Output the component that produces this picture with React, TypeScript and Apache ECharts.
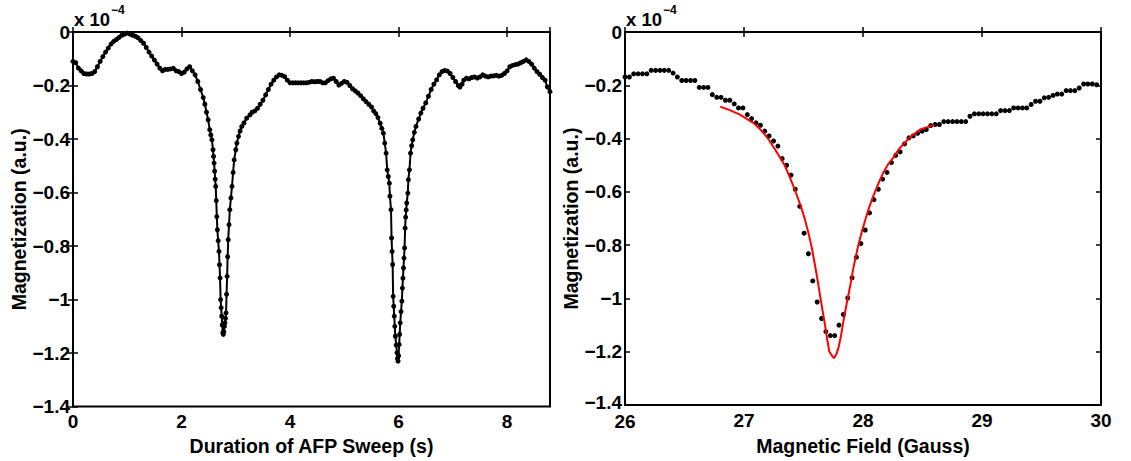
import React, { useEffect, useRef } from "react";
import * as echarts from "echarts";

// Left panel: magnetization (x 10^-4 a.u.) vs duration of AFP sweep (s)
const sweepPoints: [number, number][] = [
  [0.0, -0.11], [0.05, -0.115], [0.1, -0.135], [0.15, -0.145], [0.2, -0.155], [0.25, -0.157],
  [0.3, -0.157], [0.35, -0.155], [0.4, -0.148], [0.45, -0.13], [0.5, -0.11], [0.55, -0.092],
  [0.6, -0.075], [0.65, -0.06], [0.7, -0.045], [0.75, -0.035], [0.8, -0.028], [0.85, -0.02],
  [0.9, -0.012], [0.95, -0.008], [1.0, -0.004], [1.05, -0.008], [1.1, -0.012], [1.15, -0.016],
  [1.2, -0.022], [1.25, -0.032], [1.3, -0.042], [1.35, -0.058], [1.4, -0.075], [1.45, -0.09],
  [1.5, -0.105], [1.55, -0.12], [1.6, -0.135], [1.65, -0.145], [1.7, -0.14], [1.75, -0.14],
  [1.8, -0.138], [1.85, -0.136], [1.9, -0.145], [1.95, -0.148], [2.0, -0.155], [2.05, -0.15],
  [2.1, -0.138], [2.15, -0.13], [2.2, -0.145], [2.25, -0.16], [2.3, -0.185], [2.35, -0.215],
  [2.4, -0.245], [2.43, -0.27], [2.46, -0.3], [2.49, -0.328], [2.52, -0.365], [2.54, -0.385],
  [2.56, -0.403], [2.58, -0.44], [2.59, -0.465], [2.6, -0.49], [2.61, -0.52], [2.62, -0.55],
  [2.63, -0.577], [2.64, -0.63], [2.65, -0.69], [2.66, -0.739], [2.675, -0.78], [2.69, -0.82],
  [2.7, -0.87], [2.71, -0.919], [2.72, -1.0], [2.73, -1.03], [2.74, -1.062], [2.75, -1.095],
  [2.76, -1.124], [2.77, -1.13], [2.78, -1.12], [2.79, -1.1], [2.8, -1.087], [2.81, -1.07],
  [2.82, -1.05], [2.83, -0.98], [2.84, -0.913], [2.85, -0.84], [2.86, -0.776], [2.875, -0.72],
  [2.89, -0.664], [2.91, -0.62], [2.93, -0.577], [2.95, -0.525], [2.97, -0.478], [3.0, -0.44],
  [3.02, -0.415], [3.05, -0.39], [3.08, -0.37], [3.11, -0.353], [3.15, -0.34], [3.2, -0.322],
  [3.26, -0.31], [3.3, -0.3], [3.35, -0.295], [3.4, -0.285], [3.45, -0.27], [3.5, -0.255],
  [3.55, -0.235], [3.6, -0.215], [3.65, -0.195], [3.7, -0.18], [3.75, -0.168], [3.8, -0.16],
  [3.85, -0.162], [3.9, -0.167], [3.95, -0.18], [4.0, -0.19], [4.05, -0.19], [4.1, -0.19],
  [4.15, -0.19], [4.2, -0.19], [4.25, -0.19], [4.3, -0.19], [4.35, -0.188], [4.4, -0.185],
  [4.45, -0.186], [4.5, -0.185], [4.55, -0.185], [4.6, -0.19], [4.65, -0.19], [4.7, -0.182],
  [4.75, -0.175], [4.8, -0.173], [4.85, -0.185], [4.9, -0.198], [4.95, -0.192], [5.0, -0.185],
  [5.05, -0.188], [5.1, -0.2], [5.15, -0.212], [5.2, -0.22], [5.25, -0.228], [5.3, -0.238],
  [5.35, -0.25], [5.4, -0.26], [5.45, -0.27], [5.5, -0.28], [5.54, -0.295], [5.58, -0.305],
  [5.62, -0.32], [5.66, -0.341], [5.69, -0.36], [5.72, -0.378], [5.745, -0.415], [5.77, -0.453],
  [5.79, -0.515], [5.81, -0.54], [5.83, -0.565], [5.84, -0.614], [5.86, -0.664], [5.87, -0.77],
  [5.88, -0.82], [5.89, -0.869], [5.9, -0.988], [5.91, -1.025], [5.92, -1.062], [5.93, -1.1],
  [5.94, -1.137], [5.955, -1.17], [5.97, -1.199], [5.98, -1.22], [5.99, -1.23], [6.0, -1.21],
  [6.01, -1.168], [6.02, -1.13], [6.03, -1.087], [6.045, -1.045], [6.06, -1.006], [6.07, -0.957],
  [6.08, -0.92], [6.09, -0.882], [6.1, -0.845], [6.11, -0.807], [6.12, -0.733], [6.13, -0.692],
  [6.14, -0.665], [6.15, -0.639], [6.17, -0.602], [6.18, -0.552], [6.2, -0.515], [6.22, -0.453],
  [6.24, -0.425], [6.26, -0.403], [6.29, -0.375], [6.32, -0.353], [6.37, -0.325], [6.41, -0.303],
  [6.45, -0.285], [6.5, -0.265], [6.55, -0.24], [6.6, -0.215], [6.65, -0.195], [6.7, -0.179],
  [6.75, -0.16], [6.8, -0.148], [6.85, -0.144], [6.9, -0.146], [6.95, -0.155], [7.0, -0.17],
  [7.05, -0.185], [7.1, -0.2], [7.13, -0.206], [7.17, -0.195], [7.2, -0.18], [7.25, -0.173],
  [7.3, -0.175], [7.35, -0.17], [7.4, -0.168], [7.45, -0.172], [7.5, -0.168], [7.55, -0.16],
  [7.6, -0.165], [7.65, -0.168], [7.7, -0.165], [7.75, -0.164], [7.8, -0.162], [7.85, -0.165],
  [7.9, -0.162], [7.95, -0.155], [8.0, -0.145], [8.05, -0.13], [8.1, -0.125], [8.15, -0.122],
  [8.2, -0.12], [8.25, -0.115], [8.3, -0.11], [8.35, -0.104], [8.4, -0.11], [8.45, -0.12],
  [8.5, -0.135], [8.55, -0.148], [8.6, -0.158], [8.65, -0.17], [8.7, -0.18], [8.74, -0.205],
  [8.79, -0.223],
];

// Right panel: measured magnetization vs magnetic field (Gauss)
const fieldGauss: number[] = [
  26.0, 26.037, 26.073, 26.11, 26.147, 26.184, 26.22, 26.257, 26.294, 26.33,
  26.367, 26.404, 26.44, 26.477, 26.514, 26.551, 26.587, 26.624, 26.661, 26.697,
  26.734, 26.771, 26.807, 26.844, 26.881, 26.918, 26.954, 26.991, 27.028, 27.064,
  27.101, 27.138, 27.174, 27.211, 27.248, 27.285, 27.321, 27.358, 27.395, 27.431,
  27.468, 27.505, 27.541, 27.578, 27.615, 27.652, 27.688, 27.725, 27.762, 27.798,
  27.835, 27.872, 27.908, 27.945, 27.982, 28.019, 28.055, 28.092, 28.129, 28.165,
  28.202, 28.239, 28.275, 28.312, 28.349, 28.386, 28.422, 28.459, 28.496, 28.532,
  28.569, 28.606, 28.642, 28.679, 28.716, 28.753, 28.789, 28.826, 28.863, 28.899,
  28.936, 28.973, 29.009, 29.046, 29.083, 29.12, 29.156, 29.193, 29.23, 29.266,
  29.303, 29.34, 29.376, 29.413, 29.45, 29.487, 29.523, 29.56, 29.597, 29.633,
  29.67, 29.707, 29.743, 29.78, 29.817, 29.854, 29.89, 29.927, 29.964,
];
const fieldMag: number[] = [
  -0.169, -0.169, -0.157, -0.157, -0.157, -0.157, -0.144, -0.144, -0.144, -0.144,
  -0.144, -0.154, -0.169, -0.182, -0.182, -0.182, -0.182, -0.208, -0.208, -0.208,
  -0.235, -0.245, -0.245, -0.256, -0.256, -0.27, -0.285, -0.285, -0.31, -0.325,
  -0.341, -0.35, -0.372, -0.39, -0.409, -0.428, -0.475, -0.5, -0.537, -0.59,
  -0.654, -0.755, -0.832, -0.934, -1.013, -1.075, -1.124, -1.139, -1.139, -1.1,
  -1.06, -0.998, -0.922, -0.845, -0.794, -0.743, -0.679, -0.629, -0.59, -0.552,
  -0.527, -0.49, -0.463, -0.45, -0.42, -0.397, -0.39, -0.38, -0.372, -0.366,
  -0.351, -0.347, -0.347, -0.336, -0.336, -0.336, -0.336, -0.336, -0.336, -0.316,
  -0.307, -0.307, -0.307, -0.307, -0.307, -0.307, -0.295, -0.295, -0.295, -0.285,
  -0.285, -0.285, -0.285, -0.272, -0.26, -0.26, -0.247, -0.245, -0.238, -0.233,
  -0.233, -0.22, -0.22, -0.22, -0.21, -0.195, -0.195, -0.195, -0.198,
];

// Right panel: red fit curve
const fitPoints: [number, number][] = [
  [26.8, -0.28], [26.88, -0.293], [26.966, -0.31], [27.02, -0.325], [27.078, -0.341],
  [27.12, -0.358], [27.162, -0.378], [27.21, -0.405], [27.26, -0.44], [27.303, -0.471],
  [27.345, -0.503], [27.38, -0.54], [27.414, -0.577], [27.45, -0.62], [27.485, -0.664],
  [27.513, -0.705], [27.54, -0.751], [27.57, -0.81], [27.597, -0.876], [27.62, -0.935],
  [27.639, -0.988], [27.66, -1.045], [27.681, -1.1], [27.7, -1.155], [27.717, -1.199],
  [27.74, -1.215], [27.756, -1.224], [27.775, -1.21], [27.793, -1.187], [27.815, -1.14],
  [27.835, -1.087], [27.856, -1.035], [27.877, -0.988], [27.9, -0.935], [27.918, -0.888],
  [27.94, -0.842], [27.96, -0.801], [27.99, -0.75], [28.017, -0.708], [28.05, -0.66],
  [28.087, -0.615], [28.13, -0.568], [28.171, -0.527], [28.21, -0.497], [28.255, -0.471],
  [28.31, -0.435], [28.395, -0.395], [28.479, -0.366], [28.54, -0.357], [28.6, -0.349],
];

const leftXRange = { min: 0, max: 8.79, interval: 2 };
const rightXRange = { min: 26, max: 30, interval: 1 };
const yRange = { min: -1.4, max: 0, interval: 0.2 };
const leftXTitle = "Duration of AFP Sweep (s)";
const rightXTitle = "Magnetic Field (Gauss)";
const yTitle = "Magnetization (a.u.)";
const scaleBase = "x 10";
const scaleExp = "\u22124";

const FONT = "'Liberation Sans', Arial, Helvetica, sans-serif";

function fmtY(v: number): string {
  if (Math.abs(v) < 1e-9) return "0";
  const s = parseFloat(Math.abs(v).toFixed(2)).toString();
  return (v < 0 ? "\u2212" : "") + s;
}

function fmtX(v: number, step: number): string {
  const r = Math.round(v / step) * step;
  if (Math.abs(r - v) > 1e-6) return "";
  return String(Math.round(v * 1000) / 1000);
}

export default function App() {
  const ref = useRef<HTMLDivElement>(null);
  useEffect(() => {
    if (!ref.current) return;
    const chart = echarts.init(ref.current, null, { renderer: "svg" });
    const baseFont = { color: "#000", fontFamily: FONT, fontWeight: "bold" as const, fontSize: 19 };
    const labelStyle = { ...baseFont, lineHeight: 14 };
    const titleStyle = { ...baseFont, fontSize: 19.5 };
    const tick = { show: true, inside: true, length: 5, lineStyle: { color: "#000", width: 1.5 } };

    // For the right panel, the corner labels ("-1.4" and "26") are nudged apart slightly.
    const xAxisPair = (gi: number, r: any, title: string) => [
      {
        type: "value", gridIndex: gi, position: "bottom", min: r.min, max: r.max, interval: r.interval,
        axisLine: { show: false }, splitLine: { show: false }, axisTick: tick,
        axisLabel: {
          ...labelStyle, margin: 8, showMaxLabel: true, hideOverlap: false,
          formatter: (v: number) => {
            const t = fmtX(v, r.interval);
            return gi === 1 && Math.abs(v - r.min) < 1e-9 ? `{lo|${t}}` : t;
          },
          rich: { lo: { ...labelStyle, padding: [3, 0, 0, 0] } },
        },
        name: title, nameLocation: "middle", nameGap: 20,
        nameTextStyle: { ...titleStyle },
      },
      {
        type: "value", gridIndex: gi, position: "top", min: r.min, max: r.max, interval: r.interval,
        axisLine: { show: false }, splitLine: { show: false }, axisTick: tick, axisLabel: { show: false },
      },
    ];
    const yAxisPair = (gi: number) => [
      {
        type: "value", gridIndex: gi, position: "left", min: yRange.min, max: yRange.max, interval: yRange.interval,
        axisLine: { show: false }, splitLine: { show: false }, axisTick: tick,
        axisLabel: {
          ...labelStyle, margin: 3,
          formatter: (v: number) => {
            const t = fmtY(v);
            return gi === 1 && Math.abs(v - yRange.min) < 1e-9 ? `{lo|${t}}` : t;
          },
          rich: { lo: { ...labelStyle, padding: [0, 0, 5, 0] } },
        },
        name: yTitle, nameLocation: "middle", nameGap: 44, nameRotate: 90,
        nameTextStyle: { ...titleStyle },
      },
      {
        type: "value", gridIndex: gi, position: "right", min: yRange.min, max: yRange.max, interval: yRange.interval,
        axisLine: { show: false }, splitLine: { show: false }, axisTick: tick, axisLabel: { show: false },
      },
    ];

    const scaleText = (x: number) => [
      { type: "text", left: x, top: 10, style: { text: scaleBase, fill: "#000", font: `bold 18.5px ${FONT}` } },
      { type: "text", left: x + 37, top: 4, style: { text: scaleExp, fill: "#000", font: `bold 12px ${FONT}` } },
    ];

    chart.setOption({
      animation: false,
      backgroundColor: "#fff",
      grid: [
        { left: 73, top: 32, width: 477, height: 375, show: true, borderColor: "#000", borderWidth: 2, backgroundColor: "transparent" },
        { left: 625, top: 32, width: 476, height: 375, show: true, borderColor: "#000", borderWidth: 2, backgroundColor: "transparent" },
      ],
      xAxis: [...xAxisPair(0, leftXRange, leftXTitle), ...xAxisPair(1, rightXRange, rightXTitle)],
      yAxis: [...yAxisPair(0), ...yAxisPair(1)],
      graphic: [...scaleText(74), ...scaleText(626)],
      series: [
        {
          type: "line", xAxisIndex: 0, yAxisIndex: 0, data: sweepPoints,
          symbol: "circle", symbolSize: 5, showSymbol: true, showAllSymbol: true,
          lineStyle: { color: "#000", width: 2 }, itemStyle: { color: "#000", opacity: 1 }, clip: false,
        },
        {
          type: "scatter", xAxisIndex: 2, yAxisIndex: 2,
          data: fieldGauss.map((g, i) => [g, fieldMag[i]]),
          symbol: "circle", symbolSize: 5, itemStyle: { color: "#000", opacity: 1 },
        },
        {
          type: "line", xAxisIndex: 2, yAxisIndex: 2, data: fitPoints, showSymbol: false,
          lineStyle: { color: "#ff0000", width: 2 },
        },
      ],
    });
    return () => chart.dispose();
  }, []);
  return <div ref={ref} style={{ position: "fixed", left: 0, top: 0, width: 1131, height: 461, background: "#fff" }} />;
}
